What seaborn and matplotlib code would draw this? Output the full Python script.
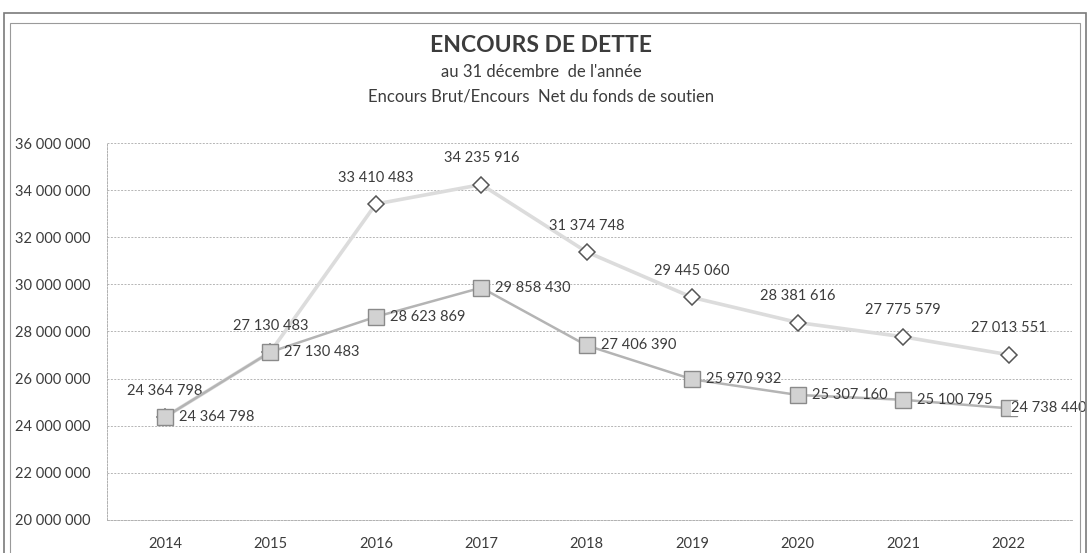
import numpy as np
import pandas as pd
import matplotlib
matplotlib.use("Agg")
import matplotlib.pyplot as plt
import seaborn as sns
from matplotlib.patches import Rectangle

annees = [2014, 2015, 2016, 2017, 2018, 2019, 2020, 2021, 2022]
encours_brut = [24364798, 27130483, 33410483, 34235916, 31374748,
                29445060, 28381616, 27775579, 27013551]
encours_net = [24364798, 27130483, 28623869, 29858430, 27406390,
               25970932, 25307160, 25100795, 24738440]

y_ticks = list(range(20000000, 36000001, 2000000))


def fmt(v):
    # separateur de milliers en espace, comme dans excel
    return "{:,}".format(int(v)).replace(",", " ")


sns.set_theme(style="white")
plt.rcParams["font.family"] = ["Lato", "DejaVu Sans"]
texte = "#3c3c3c"

fig = plt.figure(figsize=(10.91, 5.53), dpi=100)
ax = fig.add_axes([0.098, 0.0597, 0.8845, 0.6817])

df = pd.DataFrame({"pos": np.arange(len(annees)), "brut": encours_brut, "net": encours_net})

sns.lineplot(data=df, x="pos", y="brut", ax=ax, color="#dcdcdc", linewidth=2.6,
             marker="D", markersize=8, markerfacecolor="white",
             markeredgecolor="#555555", markeredgewidth=1.1, zorder=3)
sns.lineplot(data=df, x="pos", y="net", ax=ax, color="#b4b4b4", linewidth=1.8,
             marker="s", markersize=11, markerfacecolor="#d2d2d2",
             markeredgecolor="#8a8a8a", markeredgewidth=1.0, zorder=4)

for i, v in enumerate(encours_brut):
    ax.annotate(fmt(v), (i, v), xytext=(0, 14), textcoords="offset points",
                ha="center", va="bottom", fontsize=10.5, color=texte)
for i, v in enumerate(encours_net):
    # la derniere etiquette recouvre son marqueur (bord droit du cadre)
    dx = 2 if i == len(encours_net) - 1 else 10
    ax.annotate(fmt(v), (i, v), xytext=(dx, 0), textcoords="offset points",
                ha="left", va="center", fontsize=10.5, color=texte, zorder=6,
                annotation_clip=False,
                bbox=dict(boxstyle="square,pad=0.05", fc="white", ec="none")
                if i == len(encours_net) - 1 else None)

ax.set_xlim(-0.55, 8.6)
ax.set_ylim(20000000, 36000000)
ax.set_xticks(range(len(annees)))
ax.set_xticklabels([str(a) for a in annees], fontsize=10.5, color=texte)
ax.set_yticks(y_ticks)
ax.set_yticklabels([fmt(t) for t in y_ticks], fontsize=10.5, color=texte)
ax.tick_params(axis="x", pad=12, length=0)
ax.tick_params(axis="y", pad=12, length=0)
ax.set_xlabel("")
ax.set_ylabel("")
ax.grid(axis="y", color="#b5b5b5", linestyle=(0, (2, 1.5)), linewidth=0.7)
for s in ["top", "right"]:
    ax.spines[s].set_visible(False)
for s in ["left", "bottom"]:
    ax.spines[s].set_color("#b0b0b0")
    ax.spines[s].set_linestyle((0, (2, 1.5)))
    ax.spines[s].set_linewidth(0.7)

fig.text(0.496, 0.918, "ENCOURS DE DETTE", ha="center", va="center",
         fontsize=16.5, fontweight="bold", color=texte)
fig.text(0.496, 0.870, "au 31 décembre  de l'année", ha="center", va="center",
         fontsize=12, color=texte)
fig.text(0.496, 0.825, "Encours Brut/Encours  Net du fonds de soutien", ha="center",
         va="center", fontsize=12, color=texte)

# cadre exterieur du graphique
fig.patches.append(Rectangle((0.004, -0.01), 0.991, 0.987, transform=fig.transFigure,
                             fill=False, edgecolor="#7a7a7a", linewidth=1.2))
fig.patches.append(Rectangle((0.009, -0.01), 0.981, 0.968, transform=fig.transFigure,
                             fill=False, edgecolor="#9a9a9a", linewidth=0.8))

fig.savefig("out.png", dpi=100)
